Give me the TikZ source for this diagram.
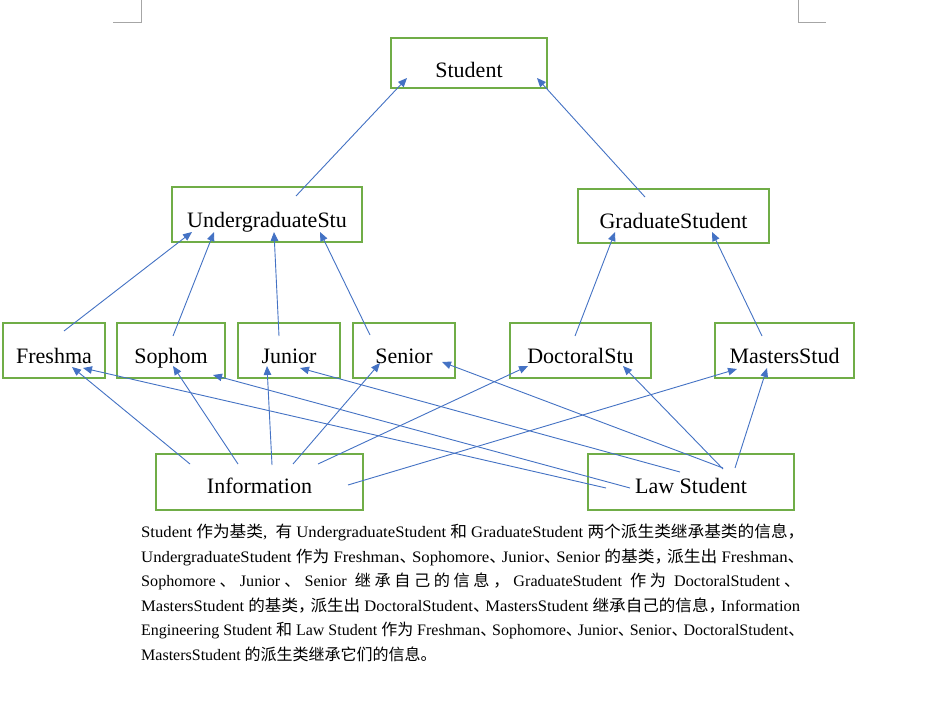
\documentclass[tikz,border=0pt]{standalone}
\usepackage{fontspec}
\setmainfont{Liberation Serif}
\newfontfamily\cjk{Noto Sans CJK SC}
\usepackage{graphicx}
\usetikzlibrary{arrows.meta}
\definecolor{boxgreen}{HTML}{70AD47}
\definecolor{arrblue}{HTML}{4472C4}
\definecolor{markgray}{HTML}{A6A6A6}
\newcommand\zh[1]{{\cjk #1}}
\newcommand\dun{\makebox[0.75em][l]{\cjk 、}}
\newcommand\dou{\makebox[0.75em][l]{\cjk ，}}
\newlength\parw \setlength\parw{659pt}
\newcommand\jline[1]{\resizebox{\parw}{\height}{#1}}
\begin{document}
\begin{tikzpicture}[x=1pt,y=-1pt,
  box/.style={draw=boxgreen, line width=2pt, inner sep=0pt, outer sep=0pt, rectangle},
  lbl/.style={anchor=base, inner sep=0pt, font=\fontsize{22pt}{26pt}\selectfont},
  arr/.style={draw=arrblue, line width=0.9pt, -{Triangle[length=9pt,width=7.5pt]}},
  para/.style={anchor=base west, inner sep=0pt, font=\fontsize{16pt}{20pt}\selectfont},
  cornermark/.style={draw=markgray, line width=0.8pt}]
\fill[white] (0,0) rectangle (937,711);
\useasboundingbox (0,0) rectangle (937,711);
% corner marks
\draw[cornermark] (141,0) -- (141,22) -- (113,22);
\draw[cornermark] (798,0) -- (798,22) -- (826,22);
% boxes
\node[box, minimum width=156, minimum height=50] (Student) at (469,63) {};
\node[box, minimum width=190, minimum height=55] (Under) at (267,214.5) {};
\node[box, minimum width=191, minimum height=54] (Grad) at (673.5,216) {};
\node[box, minimum width=102, minimum height=55] (Fresh) at (54,350.5) {};
\node[box, minimum width=108, minimum height=55] (Soph) at (171,350.5) {};
\node[box, minimum width=102, minimum height=55] (Jun) at (289,350.5) {};
\node[box, minimum width=102, minimum height=55] (Sen) at (404,350.5) {};
\node[box, minimum width=141, minimum height=55] (Doc) at (580.5,350.5) {};
\node[box, minimum width=139, minimum height=55] (Mas) at (784.5,350.5) {};
\node[box, minimum width=207, minimum height=56] (Info) at (259.5,482) {};
\node[box, minimum width=206, minimum height=56] (Law) at (691,482) {};
% labels
\node[lbl] (tStudent) at (469,78) {Student};
\node[lbl] (tUnder) at (267,228) {UndergraduateStu};
\node[lbl] (tGrad) at (673.5,228.5) {GraduateStudent};
\node[lbl] (tFresh) at (54,363) {Freshma};
\node[lbl] (tSoph) at (171,363) {Sophom};
\node[lbl] (tJun) at (289,363) {Junior};
\node[lbl] (tSen) at (404,363) {Senior};
\node[lbl] (tDoc) at (580.5,363) {DoctoralStu};
\node[lbl] (tMas) at (784.5,363) {MastersStud};
\node[lbl] (tInfo) at (259.5,493) {Information};
\node[lbl] (tLaw) at (691,493) {Law Student};
% arrows
\draw[arr] ([shift={(124,9)}]Under.north west) -- ([shift={(16,40)}]Student.north west);
\draw[arr] ([shift={(67,8)}]Grad.north west) -- ([shift={(146,40)}]Student.north west);
\draw[arr] ([shift={(61,8)}]Fresh.north west) -- ([shift={(20,45)}]Under.north west);
\draw[arr] ([shift={(56,13)}]Soph.north west) -- ([shift={(42,45)}]Under.north west);
\draw[arr] ([shift={(41,13)}]Jun.north west) -- ([shift={(102,45)}]Under.north west);
\draw[arr] ([shift={(17,12)}]Sen.north west) -- ([shift={(148,45)}]Under.north west);
\draw[arr] ([shift={(65,13)}]Doc.north west) -- ([shift={(37,43)}]Grad.north west);
\draw[arr] ([shift={(47,13)}]Mas.north west) -- ([shift={(134,43)}]Grad.north west);
\draw[arr] ([shift={(34,10)}]Info.north west) -- ([shift={(69,44)}]Fresh.north west);
\draw[arr] ([shift={(82,10)}]Info.north west) -- ([shift={(56,43)}]Soph.north west);
\draw[arr] ([shift={(116,11)}]Info.north west) -- ([shift={(29,43)}]Jun.north west);
\draw[arr] ([shift={(137,10)}]Info.north west) -- ([shift={(27,40)}]Sen.north west);
\draw[arr] ([shift={(162,10)}]Info.north west) -- ([shift={(18,43)}]Doc.north west);
\draw[arr] ([shift={(192,31)}]Info.north west) -- ([shift={(22,46)}]Mas.north west);
\draw[arr] ([shift={(18,34)}]Law.north west) -- ([shift={(80,45)}]Fresh.north west);
\draw[arr] ([shift={(42,34)}]Law.north west) -- ([shift={(96,52)}]Soph.north west);
\draw[arr] ([shift={(92,18)}]Law.north west) -- ([shift={(62,45)}]Jun.north west);
\draw[arr] ([shift={(135,14)}]Law.north west) -- ([shift={(89,39)}]Sen.north west);
\draw[arr] ([shift={(135,15)}]Law.north west) -- ([shift={(113,43)}]Doc.north west);
\draw[arr] ([shift={(147,14)}]Law.north west) -- ([shift={(52,45)}]Mas.north west);
% paragraph
\node[para] (p1) at (141,537.5) {\jline{Student \zh{作为基类}, \ \zh{有} UndergraduateStudent \zh{和} GraduateStudent \zh{两个派生类继承基类的信息}\dou}};
\node[para] (p2) at (141,562) {\jline{UndergraduateStudent \zh{作为} Freshman\dun Sophomore\dun Junior\dun Senior \zh{的基类}\dou\zh{派生出} Freshman\dun}};
\node[para] (p3) at (141,586.5) {\jline{Sophomore \zh{、} Junior \zh{、} Senior \ \zh{继 承 自 己 的 信 息 ，} GraduateStudent \ \zh{作 为} \ DoctoralStudent \zh{、}}};
\node[para] (p4) at (141,611) {\jline{MastersStudent \zh{的基类}\dou\zh{派生出} DoctoralStudent\dun MastersStudent \zh{继承自己的信息}\dou Information}};
\node[para] (p5) at (141,635.5) {\jline{Engineering Student \zh{和} Law Student \zh{作为} Freshman\dun Sophomore\dun Junior\dun Senior\dun DoctoralStudent\dun}};
\node[para] (p6) at (141,660) {MastersStudent \zh{的派生类继承它们的信息。}};
\end{tikzpicture}
\end{document}
